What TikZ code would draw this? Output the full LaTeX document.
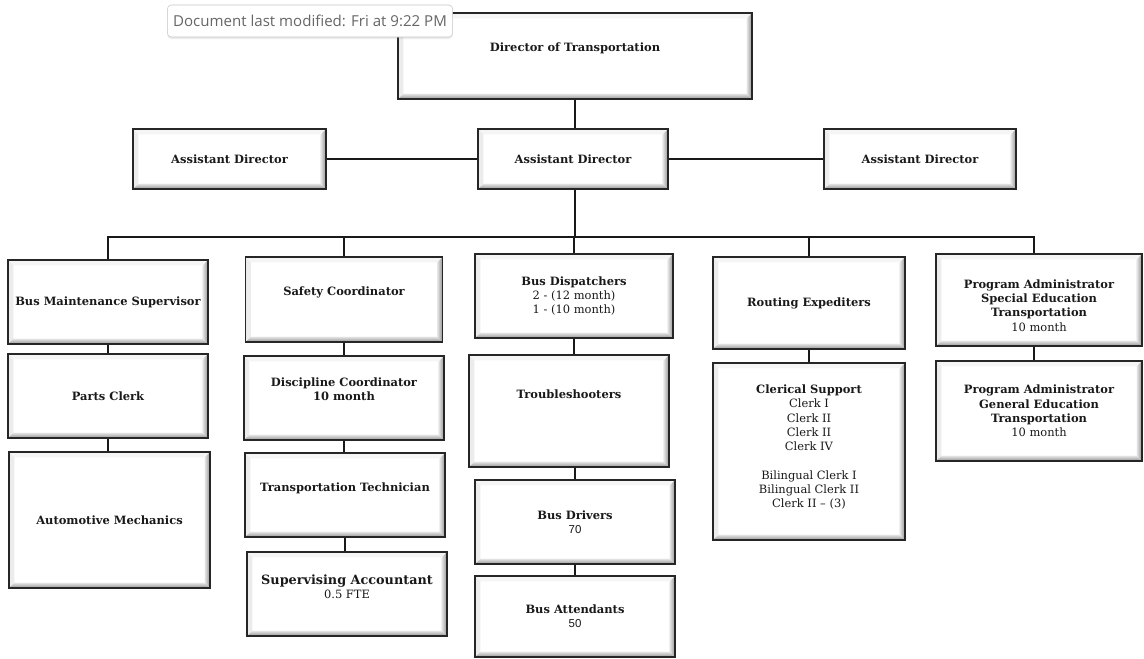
\documentclass[tikz,border=0pt]{standalone}
\usepackage{fontspec}
\newfontfamily\orgfont{DejaVu Serif}
\newfontfamily\tipfont{Open Sans}
\newfontfamily\numfont{Liberation Sans}
\usetikzlibrary{shadows}
\tikzset{
  orgbox/.style={draw=black!85, line width=0.9pt, fill=white, inner sep=0pt,
    align=center, text=black!90, font=\orgfont\bfseries\fontsize{8.6}{10.7}\selectfont,
    path picture={
      \path (path picture bounding box.south west) coordinate (bsw)
            (path picture bounding box.north east) coordinate (bne)
            (bsw -| bne) coordinate (bse)
            (bne -| bsw) coordinate (bnw);
      \fill[gray!8] (bnw) -- (bne) -- ([shift={(-4pt,-4pt)}]bne) -- ([shift={(4pt,-4pt)}]bnw) -- cycle;
      \fill[gray!15] (bsw) -- (bnw) -- ([shift={(4pt,-4pt)}]bnw) -- ([shift={(4pt,4pt)}]bsw) -- cycle;
      \shade[top color=gray!20, bottom color=gray!85] (bsw) -- (bse) -- ([shift={(-4pt,4pt)}]bse) -- ([shift={(4pt,4pt)}]bsw) -- cycle;
      \shade[left color=gray!20, right color=gray!85] (bse) -- (bne) -- ([shift={(-4pt,-4pt)}]bne) -- ([shift={(-4pt,4pt)}]bse) -- cycle;
    }},
  wh/.style 2 args={minimum width=#1*0.75pt, minimum height=#2*0.75pt},
  lift/.style={text depth=#1},
  sink/.style={text height=#1},
  link/.style={draw=black!90, line width=1.4pt},
  tip/.style={draw=gray!45, fill=white, rounded corners=3pt, minimum width=214pt,
    minimum height=24pt, text=black!60, font=\tipfont\fontsize{11.3}{13}\selectfont,
    drop shadow={shadow xshift=0pt, shadow yshift=-1.5pt, opacity=0.15}}
}
\begin{document}
\begin{tikzpicture}[x=0.75pt, y=-0.75pt]
\fill[white] (0,0) rectangle (1144,658);
% top of the chart
\node[orgbox, wh={354}{86}, lift=13pt] (dir) at (575,56) {Director of Transportation};
\node[orgbox, wh={193}{60}] (adL) at (229.5,159) {Assistant Director};
\node[orgbox, wh={190}{60}] (adM) at (573,159) {Assistant Director};
\node[orgbox, wh={192}{60}] (adR) at (920,159) {Assistant Director};
% maintenance
\node[orgbox, wh={200}{84}] (bms) at (108,302) {Bus Maintenance Supervisor};
\node[orgbox, wh={200}{84}] (parts) at (108,396) {Parts Clerk};
\node[orgbox, wh={201}{136}] (auto) at (109.5,520) {Automotive Mechanics};
% safety
\node[orgbox, wh={197}{85}, lift=12pt] (safe) at (344,299.5) {Safety Coordinator};
\node[orgbox, wh={200}{84}, lift=13pt] (disc) at (344,398) {Discipline Coordinator\\10 month};
\node[orgbox, wh={200}{84}, lift=12pt] (tech) at (345,495) {Transportation Technician};
\node[orgbox, wh={200}{84}, lift=11pt] (acct) at (347,594)
  {{\fontsize{9.6}{12}\selectfont Supervising Accountant}\\\textmd{0.5 FTE}};
% dispatch
\node[orgbox, wh={198}{84}] (disp) at (574,296) {Bus Dispatchers\\\textmd{2 - (12 month)}\\\textmd{1 - (10 month)}};
\node[orgbox, wh={200}{112}, lift=26pt] (trbl) at (569,411) {Troubleshooters};
\node[orgbox, wh={200}{84}] (drv) at (575,522) {Bus Drivers\\{\numfont\mdseries 70}};
\node[orgbox, wh={200}{81}] (att) at (575,616.5) {Bus Attendants\\{\numfont\mdseries 50}};
% routing
\node[orgbox, wh={192}{92}] (rout) at (809,303) {Routing Expediters};
\node[orgbox, wh={192}{177}, lift=8pt] (cler) at (809,451.5) {Clerical Support\\\textmd{Clerk I}\\\textmd{Clerk II}\\\textmd{Clerk II}\\\textmd{Clerk IV}\\[10.7pt]\textmd{Bilingual Clerk I}\\\textmd{Bilingual Clerk II}\\\textmd{Clerk II – (3)}};
% program administrators
\node[orgbox, wh={206}{92}, sink=47pt] (spec) at (1039,300) {Program Administrator\\Special Education\\Transportation\\\textmd{10 month}};
\node[orgbox, wh={206}{100}] (gen) at (1039,411) {Program Administrator\\General Education\\Transportation\\\textmd{10 month}};
% connectors
\coordinate (bus) at (575,237);
\draw[link] (dir.south) -- (dir.south |- adM.north);
\draw[link] (adL.east) -- (adL.east -| adM.west);
\draw[link] (adM.east) -- (adM.east -| adR.west);
\draw[link] (adM.south -| bus) -- (bus);
\foreach \n in {bms,safe,disp,rout}
  \draw[link] (bus) -| (\n.north);
\draw[link] (bus) -| ([xshift=-4pt]spec.north);
\foreach \a/\b in {bms/parts,parts/auto,safe/disc,disc/tech,tech/acct,disp/trbl,drv/att,rout/cler}
  \draw[link] (\a.south) -- (\a.south |- \b.north);
\draw[link] (drv.north |- trbl.south) -- (drv.north);
\draw[link] ([xshift=-4pt]spec.south) -- ([xshift=-4pt]spec.south |- gen.north);
% tooltip
\node[tip] (note) at (310,21) {Document last modified: Fri at 9:22 PM};
\end{tikzpicture}
\end{document}
